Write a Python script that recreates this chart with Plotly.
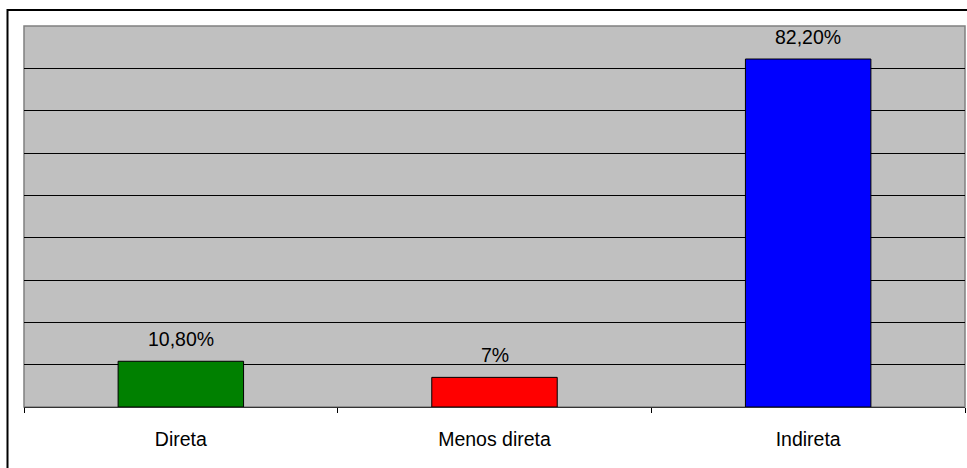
import plotly.graph_objects as go

# Share of each category (%)
categories = ["Direta", "Menos direta", "Indireta"]
values = [10.8, 7.0, 82.2]
bar_colors = ["#008000", "#FF0000", "#0000FF"]


def pct_label(v):
    if float(v).is_integer():
        return f"{int(v)}%"
    return f"{v:.2f}%".replace(".", ",")


labels = [pct_label(v) for v in values]

FONT = "Liberation Sans, Arial, sans-serif"
FS = 19.5

fig = go.Figure(
    go.Bar(
        x=categories,
        y=values,
        marker=dict(color=bar_colors, line=dict(color="#000000", width=1)),
        hoverinfo="skip",
    )
)

# value labels above each bar
for cat, v, lab in zip(categories, values, labels):
    fig.add_annotation(
        x=cat, y=v, text=lab, showarrow=False,
        xanchor="center", yanchor="bottom", yshift=9,
        font=dict(family=FONT, size=FS, color="#000000"),
    )

W, H = 967, 468
ml, mr, mt, mb = 24, 2, 26, 61
pw, ph = W - ml - mr, H - mt - mb

fig.update_layout(
    width=W,
    height=H,
    margin=dict(l=ml, r=mr, t=mt, b=mb, pad=0),
    paper_bgcolor="#FFFFFF",
    plot_bgcolor="#C0C0C0",
    bargap=0.6,
    showlegend=False,
    font=dict(family=FONT, size=FS, color="#000000"),
    xaxis=dict(
        type="category",
        tickson="boundaries",
        ticks="outside",
        ticklen=5,
        tickwidth=1,
        tickcolor="#000000",
        showline=True,
        linecolor="#333333",
        linewidth=1,
        showgrid=False,
        tickfont=dict(family=FONT, size=FS, color="#000000"),
        ticklabelstandoff=15,
    ),
    yaxis=dict(
        range=[0, 90],
        dtick=10,
        showgrid=True,
        gridcolor="#000000",
        gridwidth=1,
        showticklabels=False,
        zeroline=False,
        showline=False,
        ticks="",
    ),
    shapes=[
        # plot-area frame
        dict(type="rect", xref="paper", yref="paper", x0=0, y0=0, x1=1, y1=1,
             line=dict(color="#808080", width=1.5), layer="below"),
        # outer chart frame
        dict(type="rect", xref="paper", yref="paper",
             x0=(7.5 - ml) / pw, x1=(W + 5 - ml) / pw,
             y0=(H - mb - (H + 5)) / ph, y1=(H - mb - 10) / ph,
             line=dict(color="#000000", width=2)),
    ],
)

fig.write_html("out.html")
